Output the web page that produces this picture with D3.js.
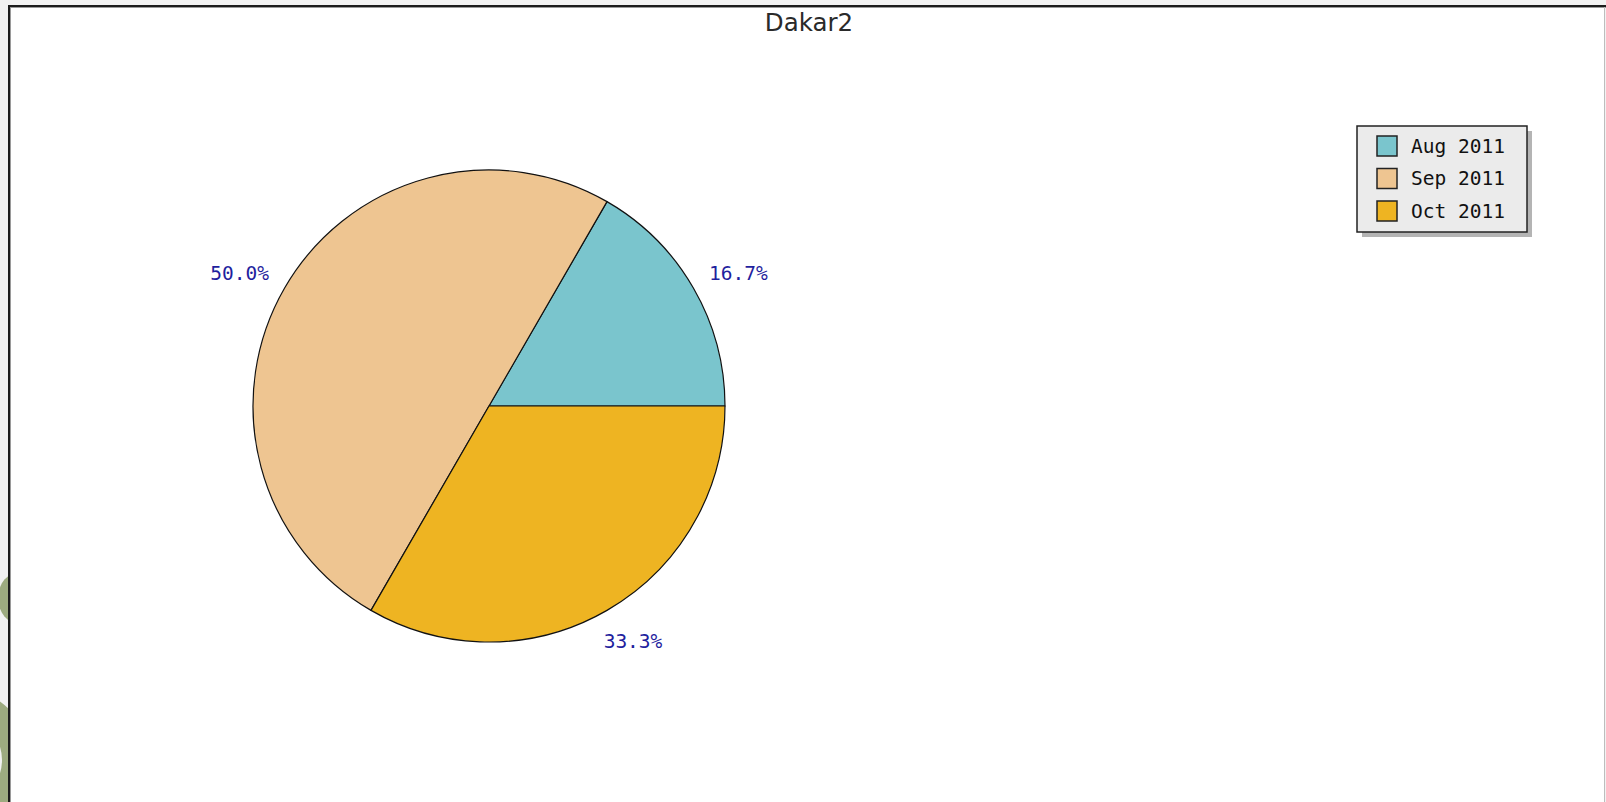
<!DOCTYPE html>
<html>
<head>
<meta charset="utf-8">
<script src="https://cdn.jsdelivr.net/npm/d3@7"></script>
<style>
  html, body { margin: 0; padding: 0; background: #f2f2f2; overflow: hidden; }
</style>
</head>
<body>
<script>
'use strict'

const TITLE = 'Dakar2'
const categories = ['Aug 2011', 'Sep 2011', 'Oct 2011']
const values = [1, 3, 2]
const sliceColors = ['#7ac5cd', '#eec591', '#eeb422']

const WIDTH = 1606
const HEIGHT = 802
const LABEL_BLUE = '#1f1f9e'
const DECOR_GREEN = '#9dab80'

const svg = d3.select('body')
  .append('svg')
  .attr('width', WIDTH)
  .attr('height', HEIGHT)

// bits of the page background peeking out on the left
svg.append('ellipse')
  .attr('cx', 20).attr('cy', 598)
  .attr('rx', 22).attr('ry', 26)
  .attr('fill', DECOR_GREEN)

svg.append('path')
  .attr('d', d3.arc()({ innerRadius: 44, outerRadius: 72, startAngle: 0, endAngle: Math.PI }))
  .attr('transform', 'translate(-42, 760)')
  .attr('fill', DECOR_GREEN)

// chart panel
svg.append('rect')
  .attr('x', 9).attr('y', 6)
  .attr('width', WIDTH - 10).attr('height', HEIGHT)
  .attr('fill', '#fff')

svg.append('line')
  .attr('x1', 8).attr('x2', WIDTH).attr('y1', 6).attr('y2', 6)
  .attr('stroke', '#1c1c1c').attr('stroke-width', 2)
svg.append('line')
  .attr('x1', 10).attr('x2', WIDTH).attr('y1', 7.5).attr('y2', 7.5)
  .attr('stroke', '#9a9a9a').attr('stroke-width', 1)
svg.append('line')
  .attr('x1', 9).attr('x2', 9).attr('y1', 5).attr('y2', HEIGHT)
  .attr('stroke', '#1c1c1c').attr('stroke-width', 2)
svg.append('line')
  .attr('x1', 10.5).attr('x2', 10.5).attr('y1', 7).attr('y2', HEIGHT)
  .attr('stroke', '#9a9a9a').attr('stroke-width', 1)
svg.append('line')
  .attr('x1', WIDTH - 1.5).attr('x2', WIDTH - 1.5).attr('y1', 7).attr('y2', HEIGHT)
  .attr('stroke', '#bdbdbd').attr('stroke-width', 1)

svg.append('text')
  .attr('x', 809)
  .attr('y', 31)
  .attr('text-anchor', 'middle')
  .style('font-family', 'DejaVu Sans, Verdana, sans-serif')
  .style('font-size', '24.5px')
  .attr('fill', '#2a2a2a')
  .text(TITLE)

// pie
const cx = 489
const cy = 406
const radius = 236

const total = d3.sum(values)
const pie = d3.pie()
  .sort(null)
  .startAngle(Math.PI / 2)
  .endAngle(Math.PI / 2 - 2 * Math.PI)

const arc = d3.arc().innerRadius(0).outerRadius(radius)
const slices = pie(values)

const pieGroup = svg.append('g')
  .attr('transform', `translate(${ cx }, ${ cy })`)

pieGroup.selectAll('path.slice')
  .data(slices)
  .enter()
  .append('path')
  .attr('class', 'slice')
  .attr('d', arc)
  .attr('fill', (d, i) => sliceColors[i])
  .attr('stroke', '#111')
  .attr('stroke-width', 1.2)
  .attr('stroke-linejoin', 'round')

// labels sit on an ellipse slightly outside the rim
const labelRx = radius + 52
const labelRy = radius + 34

pieGroup.selectAll('text.pct')
  .data(slices)
  .enter()
  .append('text')
  .attr('class', 'pct')
  .attr('x', d => labelRx * Math.sin((d.startAngle + d.endAngle) / 2))
  .attr('y', d => 2 - labelRy * Math.cos((d.startAngle + d.endAngle) / 2))
  .attr('text-anchor', 'middle')
  .attr('dominant-baseline', 'central')
  .style('font-family', 'DejaVu Sans Mono, Liberation Mono, monospace')
  .style('font-size', '19.5px')
  .attr('fill', LABEL_BLUE)
  .text(d => d3.format('.1f')(100 * d.value / total) + '%')

// legend
const legendX = 1357
const legendY = 126
const legendW = 170
const legendH = 106
const rowStep = 32.5

svg.append('rect')
  .attr('x', legendX + 5).attr('y', legendY + 5)
  .attr('width', legendW).attr('height', legendH)
  .attr('fill', '#b4b4b4')

svg.append('rect')
  .attr('x', legendX).attr('y', legendY)
  .attr('width', legendW).attr('height', legendH)
  .attr('fill', '#ebebeb')
  .attr('stroke', '#222')
  .attr('stroke-width', 1.5)

const rows = svg.selectAll('g.legend-row')
  .data(categories)
  .enter()
  .append('g')
  .attr('class', 'legend-row')
  .attr('transform', (d, i) => `translate(${ legendX + 20 }, ${ legendY + 20 + i * rowStep })`)

rows.append('rect')
  .attr('x', 0).attr('y', -10)
  .attr('width', 20).attr('height', 20)
  .attr('fill', (d, i) => sliceColors[i])
  .attr('stroke', '#222')
  .attr('stroke-width', 1.5)

rows.append('text')
  .attr('x', 34)
  .attr('y', 0)
  .attr('dominant-baseline', 'central')
  .style('font-family', 'DejaVu Sans Mono, Liberation Mono, monospace')
  .style('font-size', '19.5px')
  .attr('fill', '#111')
  .text(d => d)
</script>
</body>
</html>
